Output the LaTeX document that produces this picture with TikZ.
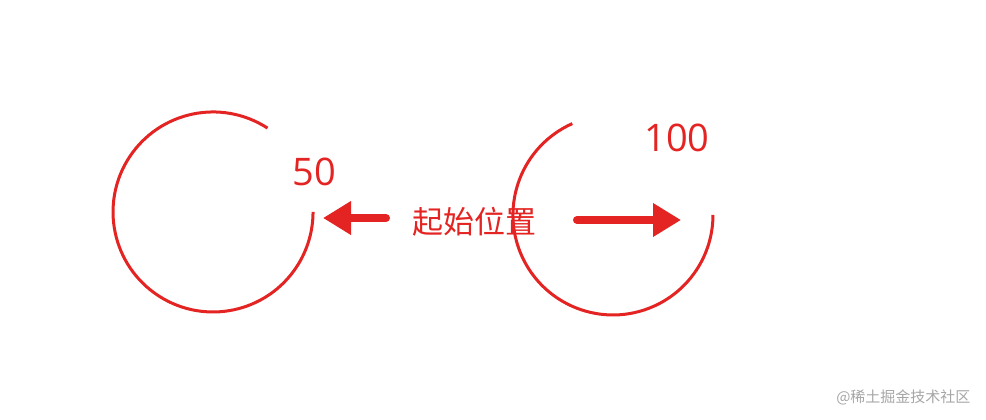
\documentclass[tikz,border=0pt]{standalone}
\usepackage{fontspec}
\setmainfont{Open Sans}
\newfontfamily\cjk{Noto Sans CJK SC}
\usetikzlibrary{arrows.meta}
\definecolor{rd}{HTML}{E32422}
\tikzset{ring/.style={draw=rd,line width=3pt},
 fat/.style={draw=rd,line width=8pt,line cap=round,-{Triangle[length=28pt,width=32pt]}},
 lbl/.style={text=rd,font=\fontsize{38}{38}\selectfont,inner sep=0pt}}
\begin{document}
\begin{tikzpicture}[x=1pt,y=-1pt]
\useasboundingbox (0,0) rectangle (986,420);
\draw[ring] (267.5,128.1) arc[start angle=-57,end angle=-360,radius=100];
\draw[ring] (572.3,123.6) arc[start angle=-114,end angle=-360,radius=100];
\node[lbl] (n50) at (314,172) {50};
\node[lbl] (n100) at (677,138) {100};
\node[text=rd,font=\cjk\fontsize{31}{31}\selectfont,inner sep=2pt] (t) at (474,222) {起始位置};
\coordinate (ls) at (386,218);
\coordinate (la) at (323,218);
\coordinate (rs) at (577,220);
\coordinate (ra) at (681,220);
\draw[fat] (ls) -- (la);
\draw[fat] (rs) -- (ra);
\node[text=gray!70,font=\cjk\fontsize{15}{15}\selectfont,anchor=east] (w) at (974,397) {@稀土掘金技术社区};
\end{tikzpicture}
\end{document}
